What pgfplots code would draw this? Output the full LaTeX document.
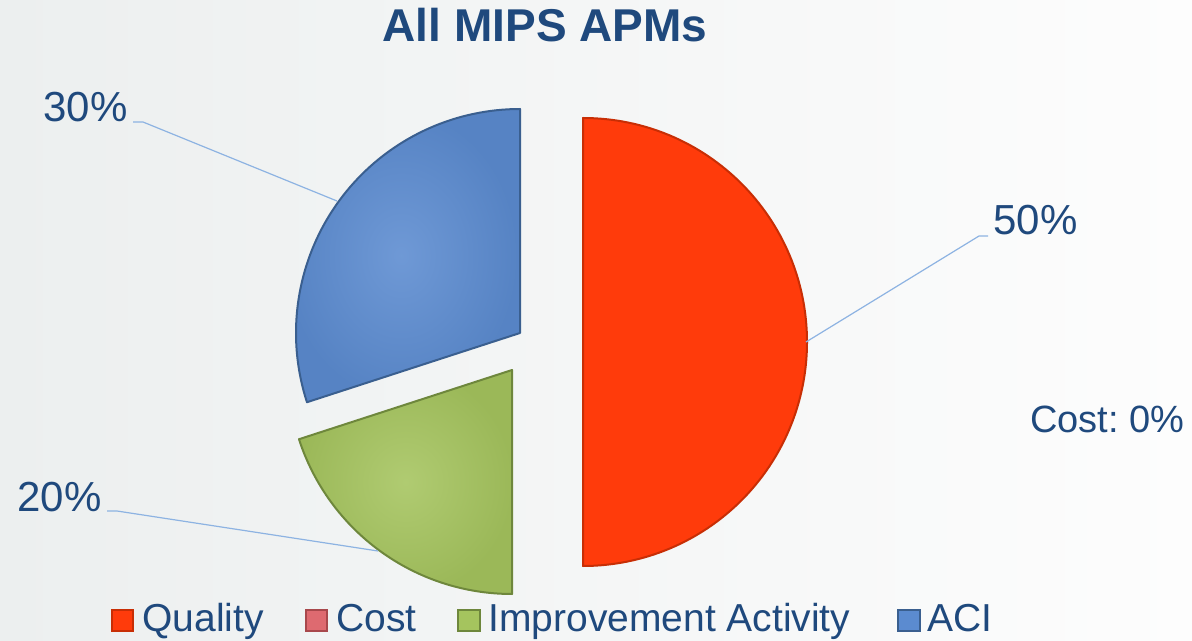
\documentclass[border=0pt]{standalone}
\usepackage{fontspec}
\setmainfont{Liberation Sans}
\usepackage{pgfplots}
\pgfplotsset{compat=1.18}
\usepackage{pgfplotstable}

\definecolor{txt}{HTML}{1F497D}
\definecolor{lead}{HTML}{8DB3E2}
\definecolor{qual}{HTML}{FF3B0B}
\definecolor{qualb}{HTML}{C82E05}
\definecolor{cost}{HTML}{DE6A70}
\definecolor{costb}{HTML}{A8484C}
\definecolor{impr}{HTML}{A5C45E}
\definecolor{imprb}{HTML}{6E873C}
\definecolor{aci}{HTML}{5B8BD0}
\definecolor{acib}{HTML}{3A5F8F}

% share in percent, centre of each (exploded) slice in pixels
\pgfplotstableread{
name value cx cy
Quality 50 583 342
Cost 0 583 342
Improvement 20 512 370
ACI 30 520 333
}\piedata

\newcommand\getval[3]{\pgfplotstablegetelem{#1}{#2}\of\piedata\global\let#3\pgfplotsretval}
% cx, cy, start angle, end angle, fill, border
\newcommand\slice[6]{%
  \shadedraw[inner color=#5!88!white, outer color=#5!94!black, draw=#6, line width=1pt, line join=round]
    (axis cs:#1,#2) -- (axis cs:{#1+224*cos(#3)},{#2-224*sin(#3)})
    arc[start angle=#3,end angle=#4,radius=112pt] -- cycle;}

\begin{document}
\frenchspacing
\begin{tikzpicture}
\getval{0}{value}\vQ \getval{1}{value}\vC \getval{2}{value}\vI \getval{3}{value}\vA
\getval{0}{cx}\cxQ \getval{0}{cy}\cyQ
\getval{2}{cx}\cxI \getval{2}{cy}\cyI
\getval{3}{cx}\cxA \getval{3}{cy}\cyA
\pgfmathsetmacro{\aQs}{90}
\pgfmathsetmacro{\aQe}{\aQs-3.6*\vQ}
\pgfmathsetmacro{\aCe}{\aQe-3.6*\vC}
\pgfmathsetmacro{\aIe}{\aCe-3.6*\vI}
\pgfmathsetmacro{\aAe}{\aIe-3.6*\vA}
\begin{axis}[
    width=596pt, height=320.5pt,
    scale only axis,
    xmin=0, xmax=1192, ymin=0, ymax=641,
    y dir=reverse,
    hide axis,
    clip=false,
]
\shade[left color={rgb,255:red,236;green,239;blue,239}, right color={rgb,255:red,253;green,253;blue,253}]
  (axis cs:0,0) rectangle (axis cs:1192,641);

\filldraw[fill=qual, draw=qualb, line width=1pt, line join=round]
  (axis cs:\cxQ,\cyQ) -- (axis cs:{\cxQ+224*cos(\aQs)},{\cyQ-224*sin(\aQs)})
  arc[start angle=\aQs,end angle=\aQe,radius=112pt] -- cycle;
\slice{\cxI}{\cyI}{\aCe}{\aIe}{impr}{imprb}
\slice{\cxA}{\cyA}{\aIe}{\aAe}{aci}{acib}

% leader lines
\draw[lead, line width=0.6pt] (axis cs:806,342) -- (axis cs:979,236) -- (axis cs:988,236);
\draw[lead, line width=0.6pt] (axis cs:337,201) -- (axis cs:143,122) -- (axis cs:133,122);
\draw[lead, line width=0.6pt] (axis cs:378,551) -- (axis cs:117,511) -- (axis cs:107,511);

\begin{scope}[every node/.style={inner sep=0pt, text=txt}]
\node[anchor=base] at (axis cs:545,42) {\fontsize{23}{27}\selectfont\bfseries All MIPS APMs};
\node[anchor=base west] at (axis cs:993,235) {\fontsize{21}{25}\selectfont 50\%};
\node[anchor=base west] at (axis cs:43,122) {\fontsize{21}{25}\selectfont 30\%};
\node[anchor=base west] at (axis cs:17,511) {\fontsize{21}{25}\selectfont 20\%};
\node[anchor=base west] at (axis cs:1030,432) {\fontsize{19}{23}\selectfont Cost: 0\%};

% legend
\filldraw[fill=qual, draw=qualb, line width=0.6pt] (axis cs:112,610) rectangle (axis cs:133,631);
\node[anchor=base west] at (axis cs:142,631) {\fontsize{19.5}{23}\selectfont Quality};
\filldraw[fill=cost, draw=costb, line width=0.6pt] (axis cs:306,610) rectangle (axis cs:327,631);
\node[anchor=base west] at (axis cs:336,631) {\fontsize{19.5}{23}\selectfont Cost};
\filldraw[fill=impr, draw=imprb, line width=0.6pt] (axis cs:458,610) rectangle (axis cs:480,631);
\node[anchor=base west] at (axis cs:488,631) {\fontsize{19.5}{23}\selectfont Improvement Activity};
\filldraw[fill=aci, draw=acib, line width=0.6pt] (axis cs:898,610) rectangle (axis cs:920,631);
\node[anchor=base west] at (axis cs:927,631) {\fontsize{19.5}{23}\selectfont ACI};
\end{scope}
\end{axis}
\end{tikzpicture}
\end{document}
